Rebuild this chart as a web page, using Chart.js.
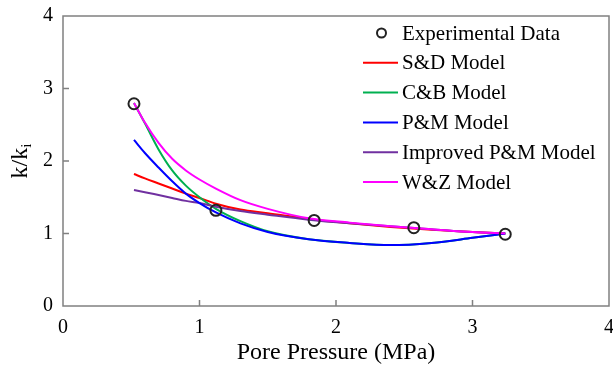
<!DOCTYPE html>
<html>
<head>
<meta charset="utf-8">
<script src="https://cdn.jsdelivr.net/npm/chart.js@4/dist/chart.umd.min.js"></script>
<style>
  html, body { margin: 0; padding: 0; background: #fff; }
  #wrap { width: 613px; height: 369px; }
</style>
</head>
<body>
<div id="wrap"><canvas id="chart" width="613" height="369"></canvas></div>
<script>
// Experimental points
const expX = [0.52, 1.12, 1.84, 2.57, 3.24];
const expY = [2.79, 1.32, 1.18, 1.08, 0.99];

// Model curves
const modelX = [0.52, 0.6, 0.7, 0.8, 0.9, 1.0, 1.12, 1.3, 1.5, 1.8, 2.1, 2.4, 2.7, 3.0, 3.24];
const sdY    = [1.82, 1.76, 1.69, 1.62, 1.55, 1.49, 1.41, 1.33, 1.28, 1.20, 1.14, 1.09, 1.05, 1.02, 1.00];
const cbY    = [2.80, 2.52, 2.16, 1.87, 1.66, 1.50, 1.34, 1.17, 1.03, 0.92, 0.87, 0.84, 0.87, 0.94, 1.00];
const pmY    = [2.29, 2.11, 1.91, 1.72, 1.55, 1.42, 1.29, 1.14, 1.02, 0.92, 0.87, 0.84, 0.87, 0.94, 1.00];
const ipmY   = [1.60, 1.57, 1.53, 1.49, 1.45, 1.42, 1.37, 1.31, 1.26, 1.19, 1.14, 1.10, 1.06, 1.02, 1.00];
const wzY    = [2.80, 2.53, 2.25, 2.03, 1.87, 1.745, 1.62, 1.46, 1.34, 1.21, 1.15, 1.10, 1.06, 1.02, 1.00];

const xTicks = [0, 1, 2, 3, 4];
const yTicks = [0, 1, 2, 3, 4];

const SERIF = '"Liberation Serif", "Times New Roman", serif';
const AXIS_COLOR = '#808080';

function pts(xs, ys) {
    return xs.map((x, i) => ({ x: x, y: ys[i] }));
}

function modelSet(label, ys, color, order) {
    return {
        label: label,
        data: pts(modelX, ys),
        borderColor: color,
        backgroundColor: color,
        borderWidth: 2,
        pointRadius: 0,
        showLine: true,
        fill: false,
        cubicInterpolationMode: 'monotone',
        order: order
    };
}

// no overflow padding from the tick labels, the layout padding sets the plot box
function fixPadding(s) {
    s.paddingLeft = 0;
    s.paddingRight = 0;
    s.paddingTop = 0;
    s.paddingBottom = 0;
}

// frame, inward ticks, y title, legend
const decorPlugin = {
    id: 'decor',
    beforeDatasetsDraw(chart) {
        const ctx = chart.ctx;
        const a = chart.chartArea;
        const xs = chart.scales.x, ys = chart.scales.y;
        ctx.save();
        ctx.strokeStyle = AXIS_COLOR;
        ctx.lineWidth = 1.5;
        ctx.strokeRect(a.left, a.top, a.right - a.left, a.bottom - a.top);
        ctx.beginPath();
        xTicks.slice(1, -1).forEach(v => {
            const px = xs.getPixelForValue(v);
            ctx.moveTo(px, a.bottom);
            ctx.lineTo(px, a.bottom - 6);
        });
        yTicks.slice(1, -1).forEach(v => {
            const py = ys.getPixelForValue(v);
            ctx.moveTo(a.left, py);
            ctx.lineTo(a.left + 6, py);
        });
        ctx.stroke();
        ctx.restore();
    },
    afterDraw(chart) {
        const ctx = chart.ctx;
        const a = chart.chartArea;
        ctx.save();

        // y axis title k/k_i
        ctx.translate(21, (a.top + a.bottom) / 2);
        ctx.rotate(-Math.PI / 2);
        ctx.fillStyle = '#000';
        ctx.textBaseline = 'middle';
        ctx.font = '24px ' + SERIF;
        const main = 'k/k';
        const wMain = ctx.measureText(main).width;
        ctx.font = '15px ' + SERIF;
        const wSub = ctx.measureText('i').width;
        const start = -(wMain + wSub) / 2;
        ctx.font = '24px ' + SERIF;
        ctx.textAlign = 'left';
        ctx.fillText(main, start, 0);
        ctx.font = '15px ' + SERIF;
        ctx.fillText('i', start + wMain, 6);
        ctx.restore();

        // legend
        ctx.save();
        const lineX0 = a.right - 246, lineX1 = a.right - 211;
        const textX = a.right - 207;
        const rowY0 = a.top + 17, rowH = 29.8;
        ctx.font = '21px ' + SERIF;
        ctx.textBaseline = 'middle';
        ctx.textAlign = 'left';
        chart.data.datasets.forEach((ds, i) => {
            const y = rowY0 + i * rowH;
            if (ds.showLine) {
                ctx.strokeStyle = ds.borderColor;
                ctx.lineWidth = 2;
                ctx.beginPath();
                ctx.moveTo(lineX0, y);
                ctx.lineTo(lineX1, y);
                ctx.stroke();
            } else {
                ctx.strokeStyle = '#222';
                ctx.lineWidth = 2;
                ctx.beginPath();
                ctx.arc((lineX0 + lineX1) / 2 + 1, y, 4.5, 0, Math.PI * 2);
                ctx.stroke();
            }
            ctx.fillStyle = '#000';
            ctx.fillText(ds.label, textX, y + 1);
        });
        ctx.restore();
    }
};

new Chart(document.getElementById('chart'), {
    type: 'scatter',
    data: {
        datasets: [
            {
                label: 'Experimental Data',
                data: pts(expX, expY),
                showLine: false,
                pointRadius: 5.5,
                pointBorderWidth: 2,
                pointBorderColor: '#222',
                pointBackgroundColor: 'rgba(0,0,0,0)',
                order: 0
            },
            modelSet('S&D Model', sdY, '#ff0000', 5),
            modelSet('C&B Model', cbY, '#00b050', 4),
            modelSet('P&M Model', pmY, '#0000ff', 2),
            modelSet('Improved P&M Model', ipmY, '#7030a0', 3),
            modelSet('W&Z Model', wzY, '#ff00ff', 1)
        ]
    },
    options: {
        responsive: false,
        animation: false,
        devicePixelRatio: 1,
        layout: { autoPadding: false, padding: { top: 16, right: 4, left: 0, bottom: 0 } },
        plugins: {
            legend: { display: false },
            tooltip: { enabled: false }
        },
        scales: {
            x: {
                type: 'linear',
                min: 0, max: 4,
                afterFit: s => { s.height = 63; fixPadding(s); },
                afterBuildTicks: s => { s.ticks = xTicks.map(v => ({ value: v })); },
                grid: { display: false, drawTicks: false },
                border: { display: false },
                ticks: { padding: 10, color: '#000', font: { family: SERIF, size: 20 } },
                title: {
                    display: true,
                    text: 'Pore Pressure (MPa)',
                    color: '#000',
                    font: { family: SERIF, size: 24 },
                    padding: { top: 0, bottom: 2 }
                }
            },
            y: {
                type: 'linear',
                min: 0, max: 4,
                afterFit: s => { s.width = 63; fixPadding(s); },
                afterBuildTicks: s => { s.ticks = yTicks.map(v => ({ value: v })); },
                grid: { display: false, drawTicks: false },
                border: { display: false },
                ticks: { padding: 10, color: '#000', font: { family: SERIF, size: 20 } }
            }
        }
    },
    plugins: [decorPlugin]
});
</script>
</body>
</html>
